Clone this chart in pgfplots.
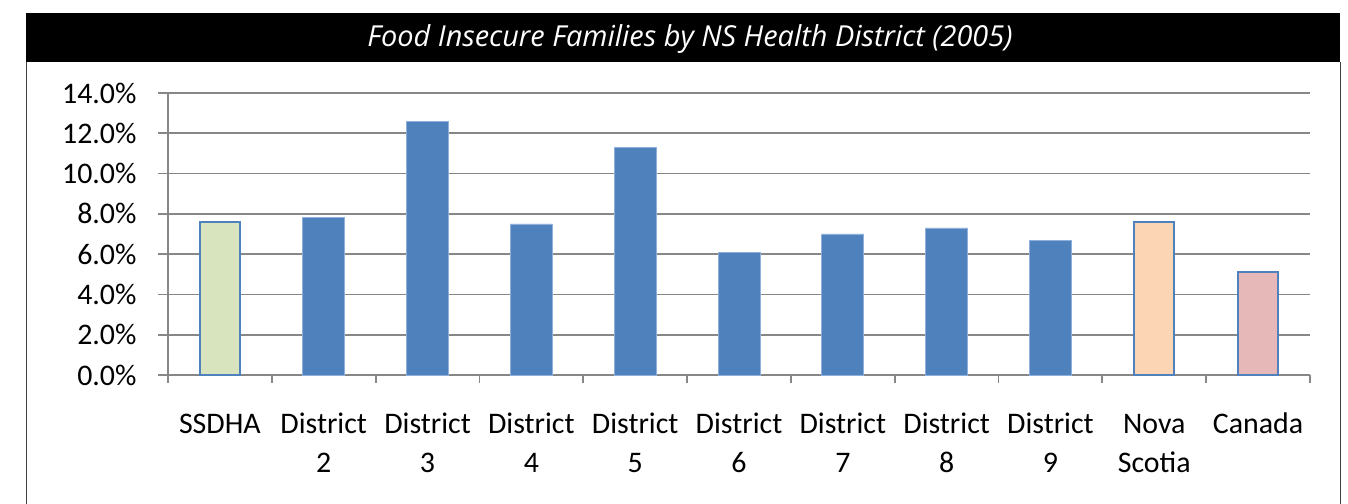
\documentclass[border=0pt]{standalone}
\usepackage{fontspec}
\setmainfont{Carlito}
\newfontfamily\titlefont{Open Sans}
\usepackage{pgfplots}
\pgfplotsset{compat=1.18}
\definecolor{barblue}{HTML}{4F81BD}
\definecolor{baredge}{HTML}{8EB0DA}
\definecolor{ssdha}{HTML}{D7E4BD}
\definecolor{nsfill}{HTML}{FCD5B5}
\definecolor{cafill}{HTML}{E6B9B8}
\definecolor{gridgray}{HTML}{878787}
\begin{document}
\begin{tikzpicture}[x=1bp,y=1bp]
\useasboundingbox (0,0) rectangle (1348,504);
\fill[white] (0,0) rectangle (1348,504);
\fill[black] (26,442) rectangle (1340,491);
\draw[black!75, line width=1bp] (26,442) -- (26,0);
\draw[black!75, line width=1bp] (1340,442) -- (1340,0);
\node[white, font=\titlefont\itshape\fontsize{29}{32}\selectfont] at (690,465) {Food Insecure Families by NS Health District (2005)};
\begin{axis}[
  at={(168bp,129bp)}, anchor=south west,
  scale only axis, width=1142bp, height=282bp,
  xmin=-0.5, xmax=10.5, ymin=0, ymax=14,
  axis x line=bottom, axis y line=left,
  axis line style={gridgray, line width=1.8bp, -},
  ymajorgrids, grid style={gridgray, line width=1.8bp},
  ytick={0,2,...,14},
  yticklabel={\pgfmathprintnumber[fixed,fixed zerofill,precision=1]{\tick}\%},
  /pgf/number format/assume math mode=true,
  xtick={0,...,10},
  xticklabels={\strut SSDHA,\strut District\\2,\strut District\\3,\strut District\\4,\strut District\\5,\strut District\\6,\strut District\\7,\strut District\\8,\strut District\\9,\strut Nova\\Scotia,\strut Canada},
  minor xtick={-0.5,0.5,...,10.5},
  tick align=outside,
  major tick length=10bp, minor tick length=8bp,
  tick style={gridgray, line width=1.8bp},
  major x tick style={draw=none},
  ticklabel style={font=\fontsize{30}{39}\selectfont, text=black},
  xticklabel style={align=center, yshift=-18bp},
  yticklabel style={xshift=-18bp},
  clip=false,
]
\addplot[ybar, bar width=42bp, bar shift=0pt, fill=barblue, draw=baredge, line width=0.8bp]
  coordinates {(1,7.8) (2,12.6) (3,7.5) (4,11.3) (5,6.1) (6,7.0) (7,7.3) (8,6.7)};
\addplot[ybar, bar width=40bp, bar shift=0pt, fill=ssdha, draw=barblue, line width=2bp]
  coordinates {(0,7.6)};
\addplot[ybar, bar width=40bp, bar shift=0pt, fill=nsfill, draw=barblue, line width=2bp]
  coordinates {(9,7.6)};
\addplot[ybar, bar width=40bp, bar shift=0pt, fill=cafill, draw=barblue, line width=2bp]
  coordinates {(10,5.1)};
\end{axis}
\end{tikzpicture}
\end{document}
